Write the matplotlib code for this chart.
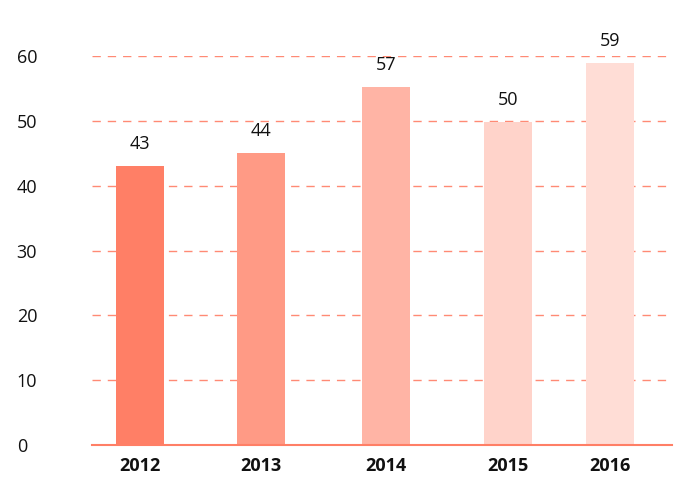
import matplotlib.pyplot as plt

# Datos
anios = ["2012", "2013", "2014", "2015", "2016"]
alturas = [43.0, 45.1, 55.2, 49.8, 58.9]
etiquetas = ["43", "44", "57", "50", "59"]
posiciones = [48, 169, 294, 416, 518]
colores = ["#FF7F66", "#FF9A85", "#FFB4A5", "#FFD3CA", "#FFDDD6"]

plt.rcParams["font.family"] = ["Open Sans", "DejaVu Sans"]
fig = plt.figure(figsize=(7, 4.94), dpi=100)
ax = fig.add_axes([0.131, 0.0992, 0.829, 0.7874])

ax.bar(posiciones, alturas, width=48, color=colores, zorder=3)
for x, h, t in zip(posiciones, alturas, etiquetas):
    ax.text(x, h + 2.0, t, ha="center", va="bottom", fontsize=13, color="#111111", clip_on=False)

ax.set_xlim(0, 580)
ax.set_ylim(0, 60)
ax.set_yticks(range(0, 61, 10))
ax.set_xticks(posiciones)
ax.set_xticklabels(anios, fontweight="bold", fontsize=13)
ax.tick_params(axis="y", length=0, labelsize=13, labelcolor="#111111")
ax.tick_params(axis="x", length=0, pad=9, labelcolor="#111111")
for lbl in ax.get_yticklabels():
    lbl.set_horizontalalignment("left")
ax.yaxis.set_tick_params(pad=54)
ax.grid(axis="y", color="#FF8A75", linestyle=(0, (6, 5)), linewidth=1, zorder=0)
for s in ["top", "right", "left"]:
    ax.spines[s].set_visible(False)
ax.spines["bottom"].set_color("#FF7F66")
ax.spines["bottom"].set_linewidth(1.5)
ax.spines["bottom"].set_zorder(4)

fig.savefig("out.png", dpi=100)
